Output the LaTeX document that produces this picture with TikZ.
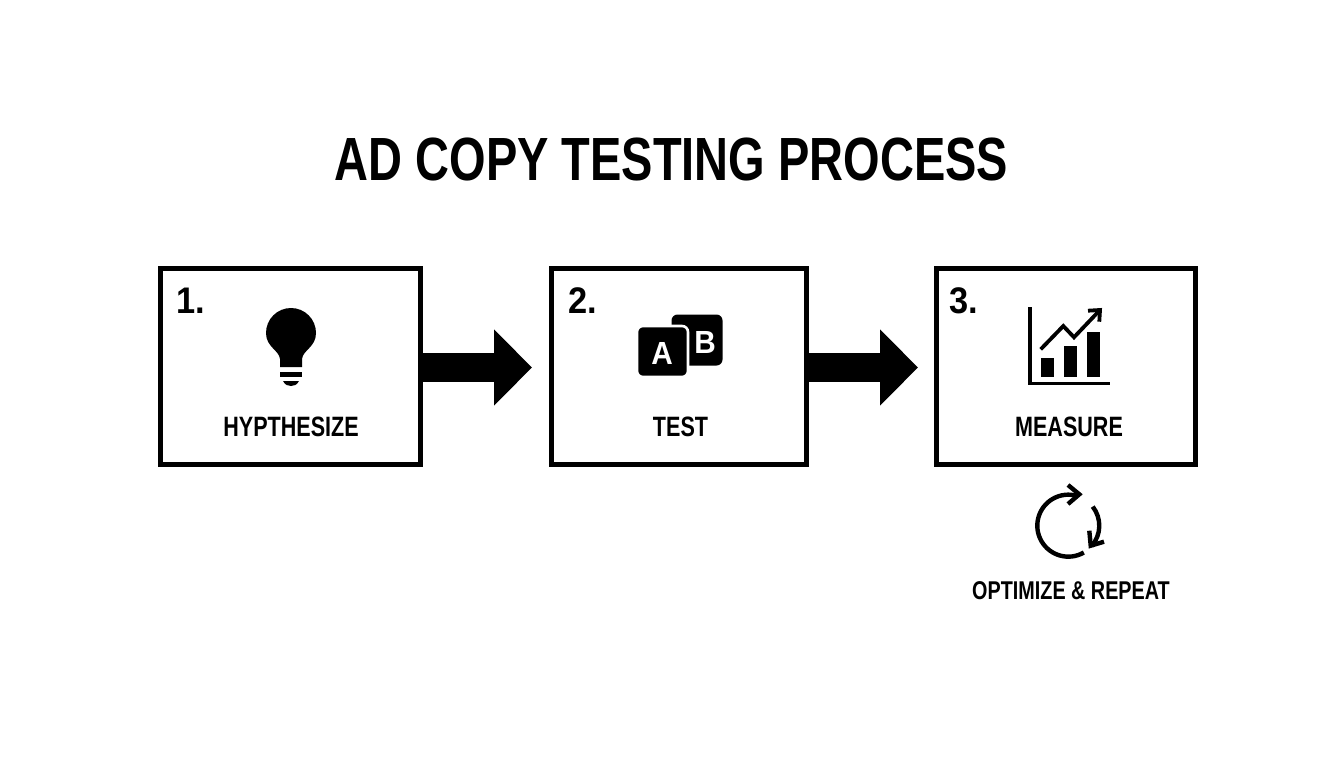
\documentclass[tikz,border=0pt]{standalone}
\usepackage{fontspec}
\setmainfont{Liberation Sans}[FakeStretch=0.77]
\newfontfamily\numfont{Liberation Sans}[FakeStretch=0.93]
\usetikzlibrary{arrows.meta}
\tikzset{
  stepbox/.style={draw=black,line width=5pt,minimum width=260pt,minimum height=196pt},
  steplabel/.style={anchor=base,inner sep=0pt,font=\fontsize{28}{28}\selectfont\bfseries},
  stepnum/.style={anchor=base west,inner sep=0pt,font=\numfont\fontsize{37}{37}\selectfont\bfseries},
  bigarrow/.style={line width=29pt,-{Triangle[length=38pt,width=74pt]}},
  icon/.style={line width=3.8pt,line cap=butt},
  cycleline/.style={line width=4.4pt},
  abcard/.style={fill=black,rounded corners=6pt,minimum size=51pt,inner sep=0pt},
  abletter/.style={text=white,inner sep=0pt,font=\numfont\fontsize{32}{32}\selectfont\bfseries}
}
\begin{document}
\begin{tikzpicture}[x=1pt,y=-1pt]
  \useasboundingbox (0,0) rectangle (1344,768);
  \node[anchor=base,inner sep=0pt,font=\fontsize{61}{61}\selectfont\bfseries] (title) at (671.5,180) {AD COPY TESTING PROCESS};

  \node[stepbox] (hyp) at (290.5,366.5) {};
  \node[stepbox,minimum width=255pt] (tst) at (679,366.5) {};
  \node[stepbox,minimum width=259.5pt] (msr) at (1065.75,366.5) {};

  \draw[bigarrow,shorten >=17pt] ([yshift=-1pt]hyp.east) -- ([yshift=-1pt]tst.west);
  \draw[bigarrow,shorten >=15.5pt] ([yshift=-1pt]tst.east) -- ([yshift=-1pt]msr.west);

  \node[stepnum] (num1) at (176.5,313) {1.};
  \node[stepnum] (num2) at (568.5,313) {2.};
  \node[stepnum] (num3) at (949.5,313) {3.};

  \node[steplabel] (lab1) at (291,436) {HYPTHESIZE};
  \node[steplabel] (lab2) at (680.5,436) {TEST};
  \node[steplabel] (lab3) at (1069,436) {MEASURE};

  \fill (280,367) -- (280,359) .. controls (279,350) and (266,347) .. (266,333)
    arc[start angle=180,end angle=0,radius=25pt]
    .. controls (316,347) and (303,350) .. (302,359) -- (302,367) -- cycle;
  \fill (280,372) rectangle (302,377);
  \fill (283,381) -- (299,381) .. controls (297,385) and (294,386) .. (291,386)
    .. controls (288,386) and (285,385) .. (283,381) -- cycle;

  \node[abcard] (cardb) at (697,340) {};
  \node[abcard,draw=white,line width=2.6pt] (carda) at (662.5,351.5) {};
  \node[abletter] (letb) at (705,342) {B};
  \node[abletter] (leta) at (662,353) {A};

  \draw[icon] (1030,307) -- (1030,383.5) -- (1110,383.5);
  \fill (1040.7,358.3) rectangle (1054,377.3);
  \fill (1064,346) rectangle (1077,377.3);
  \fill (1086.7,332) rectangle (1100,377.3);
  \draw[icon] (1040.7,349.3) -- (1063.3,326) -- (1074,337.3) -- (1099.3,310.7);
  \draw[icon] (1088,310.7) -- (1100,310) -- (1099.3,321.7);

  \draw[cycleline] (1083.8,552.5) arc[start angle=-60,end angle=-288,radius=31pt];
  \draw[cycleline] (1068,485) -- (1079.3,494.3) -- (1068,504);
  \draw[cycleline] (1092.7,506.6) arc[start angle=38,end angle=-41,radius=31pt];
  \draw[cycleline] (1089.3,530.7) -- (1090.7,545.7) -- (1104,541.7);

  \node[anchor=base,inner sep=0pt,font=\fontsize{25.7}{25.7}\selectfont\bfseries] (lab4) at (1071,599.5) {OPTIMIZE \& REPEAT};
\end{tikzpicture}
\end{document}
